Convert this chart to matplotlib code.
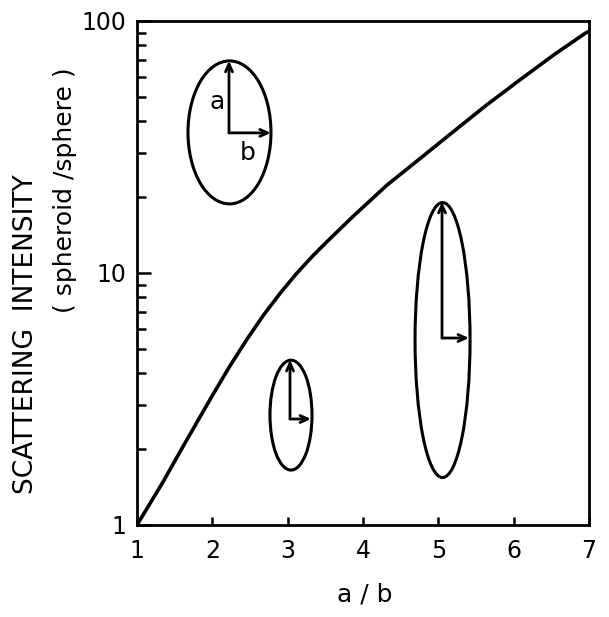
import matplotlib
matplotlib.use('Agg')
import matplotlib.pyplot as plt
from matplotlib.patches import Ellipse
from matplotlib.ticker import LogLocator, NullFormatter

# curve
ratio = [1.0, 1.35, 1.57, 1.79, 2.01, 2.23, 2.46, 2.68, 2.90, 3.12, 3.34, 3.52,
         3.87, 4.32, 4.76, 5.20, 5.64, 6.08, 6.53, 6.95, 7.0]
intensity = [1.0, 1.49, 1.95, 2.54, 3.30, 4.26, 5.46, 6.81, 8.31, 9.97, 11.75, 13.3,
             16.8, 22.35, 28.5, 36.4, 46.4, 58.3, 73.3, 89.4, 91.0]

x_ticks = [1, 2, 3, 4, 5, 6, 7]
y_ticks = [1, 10, 100]
y_tick_labels = ['1', '10', '100']

# spheroid sketches, in axes fractions: (cx, cy, w, h)
spheroids = [
    (0.2046, 0.779, 0.1836, 0.2837),
    (0.3407, 0.218, 0.093, 0.218),
    (0.676, 0.367, 0.1217, 0.5456),
]
# arrow origin, tip of "a" arrow (y), tip of "b" arrow (x)
axes_arrows = [
    (0.2035, 0.778, 0.921, 0.296),
    (0.3385, 0.2103, 0.3274, 0.385),
    (0.6748, 0.371, 0.641, 0.7345),
]

dpi = 100
fig = plt.figure(figsize=(609 / dpi, 617 / dpi), dpi=dpi)
ax = fig.add_axes([137 / 609, 92 / 617, 452 / 609, 504 / 617])

ax.plot(ratio, intensity, color='black', lw=2.6, solid_capstyle='round',
        solid_joinstyle='round')
ax.set_yscale('log')
ax.set_xlim(1, 7)
ax.set_ylim(1, 100)

ax.set_xticks(x_ticks)
ax.set_yticks(y_ticks, labels=y_tick_labels)
ax.yaxis.set_minor_locator(LogLocator(base=10, subs=range(2, 10)))
ax.yaxis.set_minor_formatter(NullFormatter())

ax.tick_params(axis='x', which='major', direction='in', length=6, width=1.8,
               labelsize=17, pad=10, top=False)
ax.tick_params(axis='y', which='major', direction='in', length=10, width=1.8,
               labelsize=17, pad=8, right=False)
ax.tick_params(axis='y', which='minor', direction='in', length=6.5, width=1.8, right=False)
for s in ax.spines.values():
    s.set_linewidth(2.0)

for cx, cy, w, h in spheroids:
    ax.add_patch(Ellipse((cx, cy), w, h, transform=ax.transAxes,
                         fill=False, lw=2.2, ec='black'))

arrow_style = dict(arrowstyle='->,head_length=0.55,head_width=0.25', lw=2.0,
                   color='black', shrinkA=0, shrinkB=0)
for ox, oy, ty, tx in axes_arrows:
    ax.annotate('', xy=(ox, ty), xytext=(ox, oy), xycoords='axes fraction',
                arrowprops=arrow_style)
    ax.annotate('', xy=(tx, oy), xytext=(ox, oy), xycoords='axes fraction',
                arrowprops=arrow_style)

ax.text(0.177, 0.839, 'a', transform=ax.transAxes, fontsize=18, ha='center', va='center')
ax.text(0.2456, 0.738, 'b', transform=ax.transAxes, fontsize=18, ha='center', va='center')

fig.text(365 / 609, 1 - 594 / 617, 'a / b', fontsize=18, ha='center', va='center')
fig.text(26 / 609, 1 - 334 / 617, 'SCATTERING  INTENSITY', fontsize=19,
         rotation=90, ha='center', va='center')
fig.text(65 / 609, 1 - 190 / 617, '( spheroid /sphere )', fontsize=18,
         rotation=90, ha='center', va='center')

fig.savefig('out.png', dpi=dpi, facecolor='white')
